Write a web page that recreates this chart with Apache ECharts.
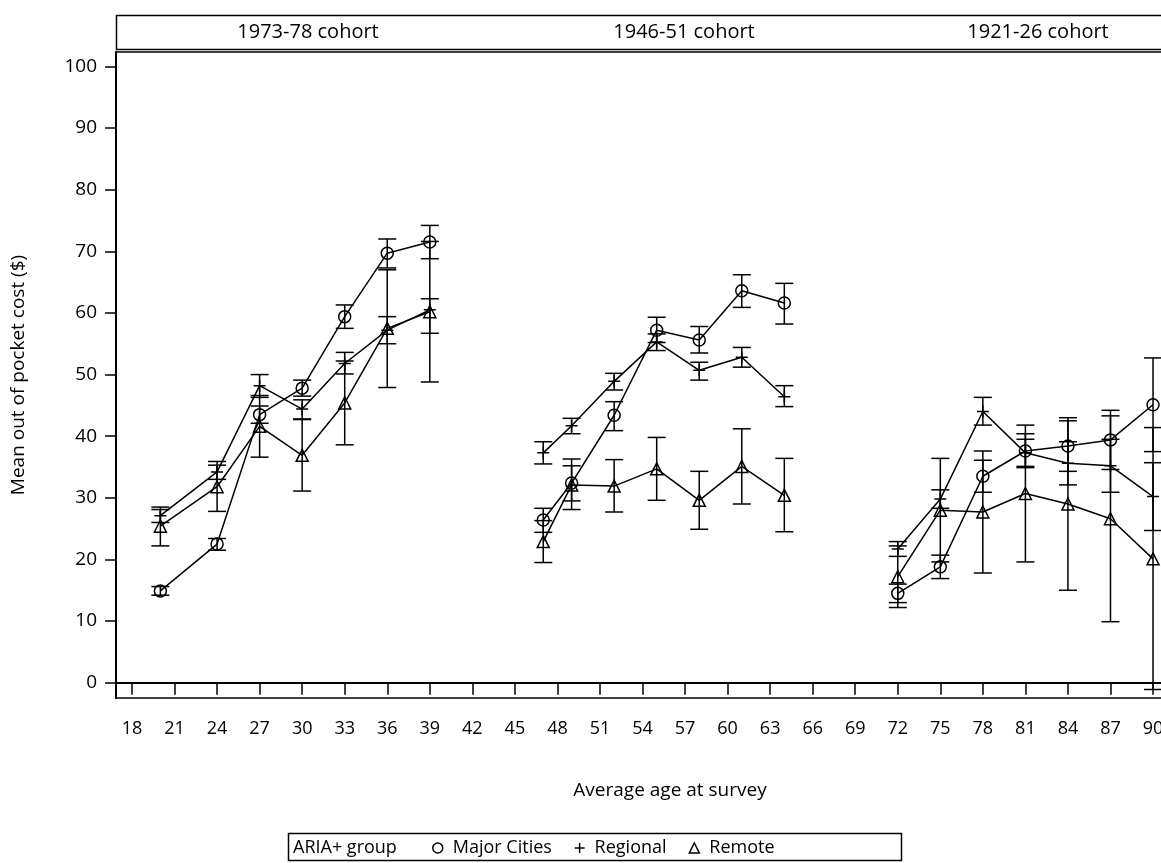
<!DOCTYPE html>
<html>
<head>
<meta charset="utf-8">
<script src="https://cdn.jsdelivr.net/npm/echarts@6/dist/echarts.min.js"></script>
<style>
html,body{margin:0;padding:0;background:#fff;}
#chart{width:1161px;height:863px;}
</style>
</head>
<body>
<div id="chart"></div>
<script>
// ---- data ----
const ages = [20,24,27,30,33,36,39, 47,49,52,55,58,61,64, 72,75,78,81,84,87,90];
const cohortLabels = ['1973-78 cohort','1946-51 cohort','1921-26 cohort'];
const xTicks = [18,21,24,27,30,33,36,39,42,45,48,51,54,57,60,63,66,69,72,75,78,81,84,87,90];
const yTicks = [0,10,20,30,40,50,60,70,80,90,100];

const majorMean = [14.9,22.5,43.5,47.8,59.4,69.7,71.5, 26.4,32.4,43.4,57.2,55.6,63.6,61.6, 14.5,18.8,33.5,37.6,38.4,39.4,45.1];
const majorLow  = [14.2,21.5,42.1,46.5,57.5,67.3,68.8, 24.4,29.5,40.9,55.2,53.5,60.9,58.2, 13.0,16.9,30.9,34.9,34.3,34.6,37.5];
const majorHigh = [15.6,23.4,44.9,49.1,61.3,72.0,74.2, 28.3,35.2,45.6,59.3,57.8,66.2,64.8, 16.0,20.7,36.1,40.4,42.5,44.2,52.7];

const regionalMean = [27.1,34.2,48.2,44.4,51.8,57.2,60.5, 37.3,41.7,48.9,55.3,50.7,52.8,46.4, 21.7,29.8,44.0,37.3,35.6,35.2,30.2];
const regionalLow  = [26.0,33.0,46.3,42.8,50.1,55.0,56.7, 35.5,40.4,47.5,53.9,49.1,51.2,44.8, 20.5,28.3,41.8,35.1,32.1,30.9,24.7];
const regionalHigh = [28.1,35.3,50.0,45.9,53.6,59.4,62.3, 39.1,42.9,50.2,56.6,52.0,54.4,48.2, 22.9,31.3,46.3,39.5,39.1,39.5,35.7];

const remoteMean = [25.4,31.8,41.6,36.9,45.4,57.5,60.2, 22.9,32.1,31.9,34.7,29.6,35.1,30.4, 17.2,28.0,27.7,30.7,29.0,26.6,20.1];
const remoteLow  = [22.2,27.8,36.6,31.1,38.6,47.9,48.8, 19.5,28.1,27.7,29.6,24.9,29.0,24.5, 12.2,19.6,17.8,19.6,15.0, 9.9,-1.1];
const remoteHigh = [28.5,35.9,46.6,42.7,52.2,67.0,71.6, 26.3,36.3,36.2,39.8,34.3,41.2,36.4, 22.2,36.4,37.6,41.8,43.0,43.3,41.4];

// ---- build ----
const PLUS = 'path://M0,6L12,6M6,0L6,12';
const groups = [
  {name:'Major Cities', symbol:'circle', mean:majorMean, low:majorLow, high:majorHigh},
  {name:'Regional', symbol:PLUS, mean:regionalMean, low:regionalLow, high:regionalHigh},
  {name:'Remote', symbol:'triangle', mean:remoteMean, low:remoteLow, high:remoteHigh}
];
const markStyle = {color:'rgba(0,0,0,0)', borderColor:'#000', borderWidth:1.5};
const font = 'Open Sans';
const CAP = 9;

function errRender(params, api){
  const x = api.value(0), lo = api.value(1), hi = api.value(2);
  const a = api.coord([x, lo]), b = api.coord([x, hi]);
  const st = {stroke:'#000', lineWidth:1.5, fill:null};
  return {type:'group', children:[
    {type:'line', shape:{x1:a[0], y1:a[1], x2:b[0], y2:b[1]}, style:st},
    {type:'line', shape:{x1:a[0]-CAP, y1:a[1], x2:a[0]+CAP, y2:a[1]}, style:st},
    {type:'line', shape:{x1:b[0]-CAP, y1:b[1], x2:b[0]+CAP, y2:b[1]}, style:st}
  ]};
}

const series = [];
groups.forEach(g => {
  series.push({
    type:'custom', name:g.name + ' CI', renderItem:errRender, z:2,
    data: ages.map((a,i) => [a, g.low[i], g.high[i]]),
    encode:{x:0, y:[1,2]}, silent:true, clip:false
  });
  for (let c = 0; c < 3; c++) {
    const idx = [0,1,2,3,4,5,6].map(k => c*7 + k);
    series.push({
      type:'line', name:g.name, z:3,
      symbol:g.symbol, symbolSize:12,
      lineStyle:{color:'#000', width:1.5},
      itemStyle:markStyle,
      data: idx.map(i => [ages[i], g.mean[i]])
    });
  }
});

const chart = echarts.init(document.getElementById('chart'), null, {renderer:'canvas'});
chart.setOption({
  animation:false,
  backgroundColor:'#fff',
  color:['#000'],
  textStyle:{fontFamily:font, color:'#000'},
  grid:{left:116, width:1108, top:52, height:646, outerBoundsMode:'none', containLabel:false,
        show:true, borderColor:'#000', borderWidth:1.5, backgroundColor:'transparent'},
  xAxis:{
    type:'value', min:16.872, max:95.005,
    name:'Average age at survey', nameLocation:'middle', nameGap:83,
    nameTextStyle:{fontSize:19, fontFamily:font, color:'#000'},
    axisLine:{show:true, lineStyle:{color:'#000', width:2}},
    axisTick:{show:true, customValues:xTicks, length:12, lineStyle:{color:'#000', width:1.5}},
    axisLabel:{show:true, customValues:xTicks, margin:22, fontSize:18, fontFamily:font, color:'#000'},
    splitLine:{show:false}
  },
  yAxis:{
    type:'value', min:-2.48, max:102.34,
    name:'Mean out of pocket cost ($)', nameLocation:'middle', nameGap:88, nameRotate:90,
    nameTextStyle:{fontSize:19, fontFamily:font, color:'#000'},
    axisLine:{show:true, lineStyle:{color:'#000', width:2}},
    axisTick:{show:true, customValues:yTicks, length:11, lineStyle:{color:'#000', width:1.5}},
    axisLabel:{show:true, customValues:yTicks, margin:19, fontSize:19, fontFamily:font, color:'#000'},
    splitLine:{show:false}
  },
  legend:{
    left:432, top:837, padding:0, itemWidth:10, itemHeight:10, itemGap:22,
    textStyle:{fontSize:18, fontFamily:font, color:'#000', padding:[0,0,0,5], lineHeight:22},
    data:[
      {name:'Major Cities', icon:'circle', itemStyle:markStyle},
      {name:'Regional', icon:PLUS, itemStyle:markStyle},
      {name:'Remote', icon:'triangle', itemStyle:markStyle}
    ],
    selectedMode:false
  },
  graphic:[
    {type:'rect', shape:{x:116.5, y:15.5, width:1200, height:34}, style:{fill:'none', stroke:'#000', lineWidth:1.5}, silent:true},
    {type:'text', x:308, y:32, style:{text:cohortLabels[0], fontSize:20, fontFamily:font, fill:'#000', align:'center', verticalAlign:'middle'}},
    {type:'text', x:684, y:32, style:{text:cohortLabels[1], fontSize:20, fontFamily:font, fill:'#000', align:'center', verticalAlign:'middle'}},
    {type:'text', x:1038, y:32, style:{text:cohortLabels[2], fontSize:20, fontFamily:font, fill:'#000', align:'center', verticalAlign:'middle'}},
    {type:'rect', shape:{x:288.5, y:833.5, width:613, height:27}, style:{fill:'none', stroke:'#000', lineWidth:1.5}, silent:true},
    {type:'text', x:293, y:848, style:{text:'ARIA+ group', fontSize:18, fontFamily:font, fill:'#000', align:'left', verticalAlign:'middle'}}
  ],
  series:series
});
</script>
</body>
</html>
